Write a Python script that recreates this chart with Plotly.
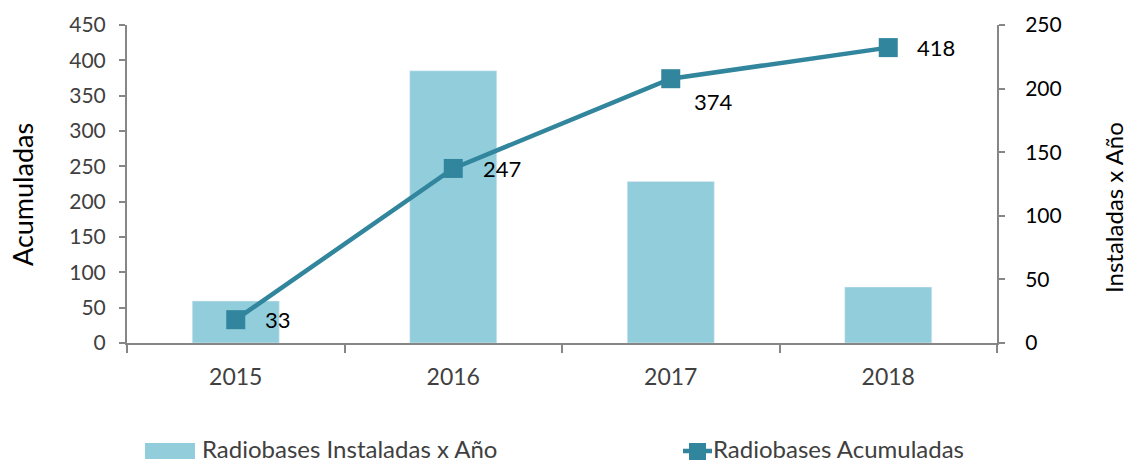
import plotly.graph_objects as go

years = ["2015", "2016", "2017", "2018"]
instaladas = [33, 214, 127, 44]
acumuladas = [33, 247, 374, 418]

# label offsets (pixels) for the cumulative-value labels
label_xshift = [27, 28, 21, 27]
label_yshift = [0, 0, -23, 0]

BAR_COLOR = "#92CDDC"
LINE_COLOR = "#31859C"
AXIS_COLOR = "#868686"
FONT = "Lato"

fig = go.Figure()
# bars on the right-side axis (primary y), line on the left-side axis (y2, drawn on top)
fig.add_trace(go.Bar(
    x=years, y=instaladas, yaxis="y", marker_color=BAR_COLOR,
    name="Radiobases Instaladas x Año", showlegend=False,
))
fig.add_trace(go.Scatter(
    x=years, y=acumuladas, yaxis="y2", mode="lines+markers",
    line=dict(color=LINE_COLOR, width=4.5),
    marker=dict(symbol="square", size=19, color=LINE_COLOR),
    name="Radiobases Acumuladas", showlegend=False,
))

for i, (v, dx, dy) in enumerate(zip(acumuladas, label_xshift, label_yshift)):
    fig.add_annotation(x=i, y=v, xref="x", yref="y2", text=str(v), showarrow=False,
                       xanchor="left", yanchor="middle", xshift=dx, yshift=dy,
                       font=dict(family=FONT, size=22, color="#000000"))

fig.update_layout(
    width=1127, height=463,
    margin=dict(l=127, r=130, t=25, b=120),
    paper_bgcolor="white", plot_bgcolor="white",
    bargap=0.6,
    font=dict(family=FONT, size=21, color="#404040"),
    xaxis=dict(
        type="category", range=[-0.5, len(years) - 0.5],
        showline=True, linecolor=AXIS_COLOR, linewidth=2,
        ticks="outside", tickson="boundaries", ticklen=8, tickcolor=AXIS_COLOR,
        tickwidth=2, showgrid=False, tickfont=dict(size=23, color="#404040"),
        ticklabelstandoff=12,
    ),
    yaxis=dict(
        range=[0, 250], dtick=50, side="right", showline=True,
        linecolor=AXIS_COLOR, linewidth=2, ticks="outside", ticklen=6,
        tickcolor=AXIS_COLOR, tickwidth=2, showgrid=False, zeroline=False,
        tickfont=dict(size=21, color="#000000"), ticklabelstandoff=16,
    ),
    yaxis2=dict(
        range=[0, 450], dtick=50, side="left", overlaying="y", showline=True,
        linecolor=AXIS_COLOR, linewidth=2, ticks="outside", ticklen=6,
        tickcolor=AXIS_COLOR, tickwidth=2, showgrid=False, zeroline=False,
        tickfont=dict(size=21, color="#404040"), ticklabelstandoff=9,
    ),
)

# manual legend / title positions in pixel terms
def px_x(p):
    return (p - 127) / 870

def px_y(p):
    return (343 - p) / 318

# axis titles
fig.add_annotation(text="Acumuladas", xref="paper", yref="paper",
                   x=px_x(22), y=px_y(195), textangle=-90, showarrow=False,
                   font=dict(family=FONT, size=27, color="#000000"),
                   xanchor="center", yanchor="middle")
fig.add_annotation(text="Instaladas x Año", xref="paper", yref="paper",
                   x=px_x(1113), y=px_y(208), textangle=-90, showarrow=False,
                   font=dict(family=FONT, size=24, color="#000000"),
                   xanchor="center", yanchor="middle")

fig.add_shape(type="rect", xref="paper", yref="paper",
              x0=px_x(145), x1=px_x(195), y0=px_y(459), y1=px_y(443),
              fillcolor=BAR_COLOR, line=dict(width=0))
fig.add_annotation(text="Radiobases Instaladas x Año", xref="paper", yref="paper",
                   x=px_x(200), y=px_y(448), xanchor="left", yanchor="middle",
                   showarrow=False, font=dict(family=FONT, size=24, color="#404040"))
fig.add_shape(type="line", xref="paper", yref="paper",
              x0=px_x(683), x1=px_x(712), y0=px_y(451), y1=px_y(451),
              line=dict(color=LINE_COLOR, width=4.5))
fig.add_shape(type="rect", xref="paper", yref="paper",
              x0=px_x(689), x1=px_x(706), y0=px_y(460), y1=px_y(443),
              fillcolor=LINE_COLOR, line=dict(width=0))
fig.add_annotation(text="Radiobases Acumuladas", xref="paper", yref="paper",
                   x=px_x(711), y=px_y(448), xanchor="left", yanchor="middle",
                   showarrow=False, font=dict(family=FONT, size=24, color="#404040"))

fig.write_html("out.html")
